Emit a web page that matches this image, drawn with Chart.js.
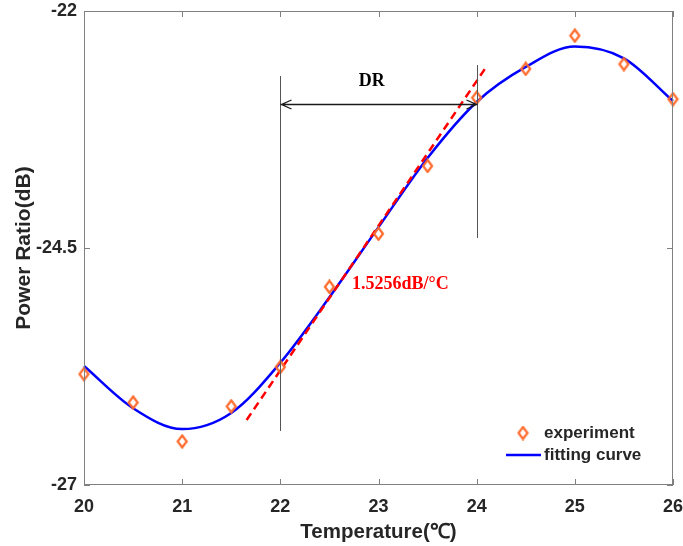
<!DOCTYPE html>
<html>
<head>
<meta charset="utf-8">
<script src="https://cdn.jsdelivr.net/npm/chart.js@4"></script>
<style>
  html, body { margin: 0; padding: 0; background: #fff; }
  #wrap { width: 683px; height: 546px; }
</style>
</head>
<body>
<div id="wrap"><canvas id="c"></canvas></div>
<script>
// Measured power ratio versus temperature
const temperatures = [20, 20.5, 21, 21.5, 22, 22.5, 23, 23.5, 24, 24.5, 25, 25.5, 26];
const experiment   = [-25.83, -26.13, -26.54, -26.17, -25.755, -24.91, -24.35, -23.635, -22.915, -22.61, -22.26, -22.56, -22.93];
// Fitted response sampled at the same temperatures
const fitting      = [-25.745, -26.19, -26.41, -26.24, -25.71, -25.02, -24.28, -23.55, -22.96, -22.59, -22.375, -22.50, -22.95];

const xTicks = [20, 21, 22, 23, 24, 25, 26];
const yTicks = [-27, -24.5, -22];

// Linear region: slope in dB/°C, the point it passes through and its vertical span
const slope = 1.5256;
const slopeCenter = { x: 22.885, y: -24.44 };
const slopeSpan = [-26.314, -22.57];
const slopeText = '1.5256dB/°C';

// Dynamic range markers
const drStart = 22;
const drEnd = 24;
const drStartSpan = [-26.43, -22.686];
const drEndSpan = [-24.395, -22.57];
const drArrowLevel = -22.984;
const drLabel = { text: 'DR', x: 22.93, y: -22.746 };
const slopeLabel = { x: 22.73, y: -24.88 };

const seriesLabels = ['experiment', 'fitting curve'];

const ORANGE = '#ff6a2b';
const BLUE = '#0000ff';
const RED = '#ff0000';
const AXIS = '#808080';
const INK = '#262626';
const SANS = '"Liberation Sans", Arial, sans-serif';
const SERIF = '"Liberation Serif", "Times New Roman", serif';

// Hollow diamond marker
function makeDiamond() {
  const c = document.createElement('canvas');
  c.width = 13; c.height = 15;
  const g = c.getContext('2d');
  g.strokeStyle = ORANGE;
  g.lineWidth = 2.2;
  g.beginPath();
  g.moveTo(6.5, 1.5);
  g.lineTo(11, 7.5);
  g.lineTo(6.5, 13.5);
  g.lineTo(2, 7.5);
  g.closePath();
  g.stroke();
  return c;
}
const diamond = makeDiamond();

const tangentPoints = slopeSpan.map(v => ({ x: slopeCenter.x + (v - slopeCenter.y) / slope, y: v }));

// keep tick labels from pushing the plot area inward
function noOverflow(s) {
  s.paddingTop = 0; s.paddingBottom = 0; s.paddingLeft = 0; s.paddingRight = 0;
}

const decorations = {
  id: 'decorations',
  afterDatasetsDraw(chart) {
    const { ctx, chartArea: a, scales: { x, y } } = chart;
    ctx.save();

    // axes box with inward ticks
    ctx.strokeStyle = AXIS;
    ctx.lineWidth = 1;
    ctx.strokeRect(Math.round(a.left) + 0.5, Math.round(a.top) + 0.5, Math.round(a.right - a.left) - 1, Math.round(a.bottom - a.top) - 1);
    const tl = 6;
    ctx.beginPath();
    xTicks.forEach(v => {
      const px = Math.round(x.getPixelForValue(v)) + 0.5;
      ctx.moveTo(px, a.bottom); ctx.lineTo(px, a.bottom - tl);
      ctx.moveTo(px, a.top); ctx.lineTo(px, a.top + tl);
    });
    yTicks.forEach(v => {
      const py = Math.round(y.getPixelForValue(v)) + 0.5;
      ctx.moveTo(a.left, py); ctx.lineTo(a.left + tl, py);
      ctx.moveTo(a.right, py); ctx.lineTo(a.right - tl, py);
    });
    ctx.stroke();

    // DR boundary lines
    ctx.strokeStyle = '#555555';
    ctx.lineWidth = 1;
    ctx.beginPath();
    const xs = Math.round(x.getPixelForValue(drStart)) + 0.5;
    const xe = Math.round(x.getPixelForValue(drEnd)) + 0.5;
    ctx.moveTo(xs, y.getPixelForValue(drStartSpan[0]));
    ctx.lineTo(xs, y.getPixelForValue(drStartSpan[1]));
    ctx.moveTo(xe, y.getPixelForValue(drEndSpan[0]));
    ctx.lineTo(xe, y.getPixelForValue(drEndSpan[1]));
    ctx.stroke();

    // double-headed arrow
    const ay = Math.round(y.getPixelForValue(drArrowLevel)) + 0.5;
    ctx.strokeStyle = '#1a1a1a';
    ctx.lineWidth = 1.3;
    ctx.beginPath();
    ctx.moveTo(xs, ay); ctx.lineTo(xe, ay);
    ctx.moveTo(xs + 11, ay - 4.5); ctx.lineTo(xs + 1, ay); ctx.lineTo(xs + 11, ay + 4.5);
    ctx.moveTo(xe - 11, ay - 4.5); ctx.lineTo(xe - 1, ay); ctx.lineTo(xe - 11, ay + 4.5);
    ctx.stroke();

    // annotation texts
    ctx.textBaseline = 'middle';
    ctx.fillStyle = '#000000';
    ctx.font = 'bold 18px ' + SERIF;
    ctx.textAlign = 'center';
    ctx.fillText(drLabel.text, x.getPixelForValue(drLabel.x), y.getPixelForValue(drLabel.y));
    ctx.fillStyle = RED;
    ctx.textAlign = 'left';
    ctx.fillText(slopeText, x.getPixelForValue(slopeLabel.x), y.getPixelForValue(slopeLabel.y));

    // legend
    const lx = a.right - 167;
    const ly1 = a.bottom - 52;
    const ly2 = a.bottom - 30;
    ctx.drawImage(diamond, lx + 17 - 6.5, ly1 - 7.5);
    ctx.strokeStyle = BLUE;
    ctx.lineWidth = 2.5;
    ctx.beginPath();
    ctx.moveTo(lx, ly2); ctx.lineTo(lx + 35, ly2);
    ctx.stroke();
    ctx.fillStyle = INK;
    ctx.font = 'bold 17px ' + SANS;
    ctx.textAlign = 'left';
    ctx.fillText(seriesLabels[0], lx + 38, ly1);
    ctx.fillText(seriesLabels[1], lx + 38, ly2);

    ctx.restore();
  }
};

const tickFont = { family: SANS, weight: 'bold', size: 18 };

new Chart(document.getElementById('c'), {
  type: 'scatter',
  data: {
    datasets: [
      {
        label: seriesLabels[0],
        data: temperatures.map((t, i) => ({ x: t, y: experiment[i] })),
        pointStyle: diamond,
        pointRadius: 6,
        showLine: false,
        clip: false,
        order: 0
      },
      {
        label: 'slope',
        data: tangentPoints,
        showLine: true,
        borderColor: RED,
        borderWidth: 2.5,
        borderDash: [8, 5],
        pointRadius: 0,
        order: 1
      },
      {
        label: seriesLabels[1],
        data: temperatures.map((t, i) => ({ x: t, y: fitting[i] })),
        showLine: true,
        borderColor: BLUE,
        borderWidth: 2.5,
        pointRadius: 0,
        cubicInterpolationMode: 'monotone',
        clip: false,
        order: 2
      }
    ]
  },
  options: {
    responsive: true,
    maintainAspectRatio: false,
    animation: false,
    devicePixelRatio: 1,
    layout: { padding: { top: 11, right: 10, left: 0, bottom: 0 } },
    plugins: { legend: { display: false }, tooltip: { enabled: false } },
    scales: {
      x: {
        type: 'linear', position: 'bottom', min: 20, max: 26,
        afterBuildTicks: s => { s.ticks = xTicks.map(v => ({ value: v })); },
        afterFit: s => { s.height = 61; noOverflow(s); },
        grid: { display: false, drawTicks: false },
        border: { display: false },
        ticks: { font: tickFont, color: INK, padding: 11, maxRotation: 0, autoSkip: false, callback: v => String(v) },
        title: { display: true, text: 'Temperature(℃)', font: { family: SANS, weight: 'bold', size: 20.5 }, color: INK, padding: { top: 0, bottom: 1 } }
      },
      y: {
        type: 'linear', position: 'left', min: -27, max: -22,
        afterBuildTicks: s => { s.ticks = yTicks.map(v => ({ value: v })); },
        afterFit: s => { s.width = 84; noOverflow(s); },
        grid: { display: false, drawTicks: false },
        border: { display: false },
        ticks: { font: tickFont, color: INK, padding: 7, autoSkip: false, callback: v => String(v) },
        title: { display: true, text: 'Power Ratio(dB)', font: { family: SANS, weight: 'bold', size: 21 }, color: INK, padding: { top: 12, bottom: 0 } }
      }
    }
  },
  plugins: [decorations]
});
</script>
</body>
</html>
